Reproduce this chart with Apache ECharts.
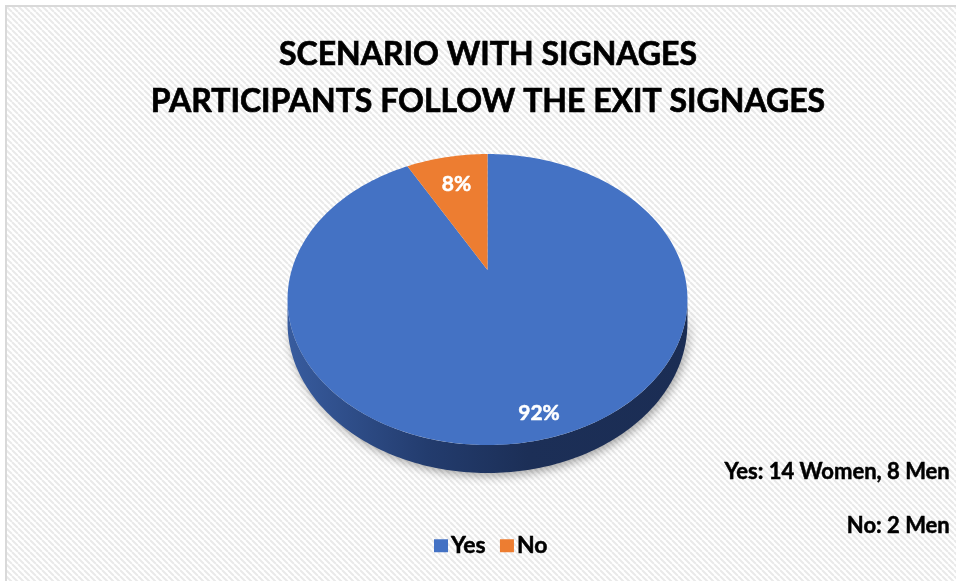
<!DOCTYPE html>
<html>
<head>
<meta charset="utf-8">
<title>Scenario with signages</title>
<script src="https://cdn.jsdelivr.net/npm/echarts@6/dist/echarts.min.js"></script>
<style>
  html, body { margin: 0; padding: 0; background: #ffffff; }
  #chart { width: 956px; height: 581px; }
</style>
</head>
<body>
<div id="chart"></div>
<script>
// ---- data ----
const titleLines = ['SCENARIO WITH SIGNAGES', 'PARTICIPANTS FOLLOW THE EXIT SIGNAGES'];
const categories = ['Yes', 'No'];
const shares = [92, 8];                       // percent of participants
const notes = ['Yes: 14 Women, 8 Men', 'No: 2 Men'];

// ---- styling ----
const palette = ['#4472C4', '#ED7D31'];
const FONT = 'Lato, "Open Sans", sans-serif';

// tilted disc with a little perspective: far edge smaller than near edge
const PIE = { cx: 487.5, cy: 270, A: 195.8, B: 139.5, k: 0.203, H: 22.3 };
const labelRadius = [0.876, 0.73];

function project(theta, r, drop) {
  // theta: clockwise from 12 o'clock, r: fraction of radius
  const u = r * Math.sin(theta), v = r * Math.cos(theta);
  const w = 1 + PIE.k * v;
  return [PIE.cx + PIE.A * u / w, PIE.cy - PIE.B * v / w + (drop ? PIE.H / w : 0)];
}

function arcPoints(a0, a1, drop) {
  const pts = [];
  const n = Math.max(2, Math.ceil((a1 - a0) / (Math.PI / 180)));
  for (let i = 0; i <= n; i++) pts.push(project(a0 + (a1 - a0) * i / n, 1, drop));
  return pts;
}

const total = shares.reduce((a, b) => a + b, 0);
// visible front wall lies between the two widest points of the rim
const wallLo = Math.acos(-PIE.k), wallHi = 2 * Math.PI - wallLo;

function renderSlice(idx) {
  return function (params, api) {
    const start = api.value(0), val = api.value(1);
    const a0 = start / total * 2 * Math.PI;
    const a1 = (start + val) / total * 2 * Math.PI;
    const children = [];

    const s0 = Math.max(a0, wallLo), s1 = Math.min(a1, wallHi);
    if (s1 > s0) {
      const top = arcPoints(s0, s1, false);
      const bottom = arcPoints(s0, s1, true).reverse();
      const x0 = PIE.cx - PIE.A * 1.03, x1 = PIE.cx + PIE.A * 1.03;
      children.push({
        type: 'polygon',
        z2: 1,
        shape: { points: top.concat(bottom) },
        style: {
          fill: new echarts.graphic.LinearGradient(x0, 0, x1, 0, idx === 0 ? [
            { offset: 0, color: '#385c9f' },
            { offset: 0.35, color: '#233c6e' },
            { offset: 0.6, color: '#1c2f57' },
            { offset: 1, color: '#1b2d54' }
          ] : [
            { offset: 0, color: '#b45a1f' },
            { offset: 1, color: '#8a4516' }
          ], true),
          shadowBlur: 10,
          shadowColor: 'rgba(0,0,0,0.35)',
          shadowOffsetX: 2,
          shadowOffsetY: 3
        }
      });
    }

    children.push({
      type: 'polygon',
      z2: 10,
      shape: { points: [project(0, 0, false)].concat(arcPoints(a0, a1, false)) },
      style: { fill: palette[idx] }
    });

    const mid = (a0 + a1) / 2;
    const lp = project(mid, labelRadius[idx], false);
    children.push({
      type: 'text',
      z2: 20,
      x: lp[0],
      y: lp[1],
      style: {
        text: Math.round(val / total * 100) + '%',
        fill: '#ffffff',
        font: 'bold 21px ' + FONT,
        stroke: '#ffffff',
        lineWidth: 0.5,
        align: 'center',
        verticalAlign: 'middle'
      }
    });
    return { type: 'group', children: children };
  };
}

// diagonal hatch used as the chart-area fill
function hatchTile() {
  const s = 6;
  const c = document.createElement('canvas');
  c.width = s; c.height = s;
  const g = c.getContext('2d');
  g.fillStyle = '#ffffff';
  g.fillRect(0, 0, s, s);
  g.strokeStyle = '#e9e9e9';
  g.lineWidth = 2;
  for (let o = -s; o <= s; o += s) {
    g.beginPath();
    g.moveTo(o, 0);
    g.lineTo(o + s, s);
    g.stroke();
  }
  return c;
}

let cum = 0;
const series = categories.map((name, i) => {
  const s = {
    type: 'custom',
    name: name,
    coordinateSystem: 'none',
    itemStyle: { color: palette[i] },
    renderItem: renderSlice(i),
    data: [{ name: name, value: [cum, shares[i]] }],
    silent: true
  };
  cum += shares[i];
  return s;
});

const noteStyle = (text) => ({
  text: text,
  font: 'bold 22px ' + FONT,
  fill: '#000000',
  stroke: '#000000',
  lineWidth: 0.5
});

const chart = echarts.init(document.getElementById('chart'), null, { renderer: 'canvas' });
chart.setOption({
  animation: false,
  backgroundColor: '#ffffff',
  title: {
    text: titleLines.join('\n'),
    left: 483,
    top: 26,
    textAlign: 'center',
    textStyle: {
      fontFamily: FONT,
      fontWeight: 'bold',
      fontSize: 32,
      lineHeight: 47,
      color: '#000000',
      textBorderColor: '#000000',
      textBorderWidth: 0.7
    }
  },
  legend: {
    data: categories,
    left: 434,
    top: 534,
    padding: 0,
    icon: 'rect',
    itemWidth: 14,
    itemHeight: 13,
    itemGap: 14,
    textStyle: {
      fontFamily: FONT, fontWeight: 'bold', fontSize: 23, color: '#000000',
      textBorderColor: '#000000', textBorderWidth: 0.5, padding: [0, 0, 0, -2]
    }
  },
  graphic: [
    {
      type: 'rect',
      z: -10,
      silent: true,
      shape: { x: 6, y: 6, width: 1000, height: 640 },
      style: {
        fill: { image: hatchTile(), repeat: 'repeat' },
        stroke: '#d9d9d9',
        lineWidth: 2
      }
    },
    { type: 'text', right: 6, top: 472 - 11, style: noteStyle(notes[0]) },
    { type: 'text', right: 6, top: 527 - 12, style: noteStyle(notes[1]) }
  ],
  series: series
});
</script>
</body>
</html>
